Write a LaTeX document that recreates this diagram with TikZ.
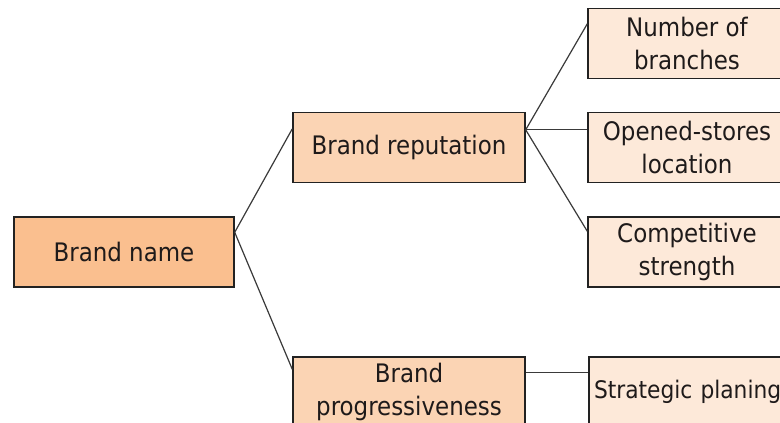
\documentclass[tikz,border=0pt]{standalone}
\usepackage{fontspec}
\setmainfont{DejaVu Sans Condensed}
\definecolor{fillA}{HTML}{FABF8F}
\definecolor{fillB}{HTML}{FBD4B4}
\definecolor{fillC}{HTML}{FDE9D9}
\definecolor{edgecol}{HTML}{222222}
\definecolor{linkcol}{HTML}{3A3A3A}
\definecolor{txtcol}{HTML}{1E1A1A}
\tikzset{
  box/.style={draw=edgecol, line width=1.4pt, inner sep=0pt, align=center,
    text=txtcol, font=\fontsize{25.5}{32.5}\selectfont, minimum height=70pt},
  rootbox/.style={box, fill=fillA, minimum width=220pt},
  midbox/.style={box, fill=fillB, minimum width=232pt},
  leafbox/.style={box, fill=fillC, minimum width=198pt},
  link/.style={draw=linkcol, line width=1.2pt}
}
\begin{document}
\begin{tikzpicture}[x=1pt, y=-1pt]
  \useasboundingbox (0,0) rectangle (780,423);
  \clip (0,0) rectangle (780,423);
  \fill[white] (0,0) rectangle (780,423);

  % hierarchy boxes
  \node[rootbox] (name) at (124,252) {Brand name};
  \node[midbox]  (rep)  at (409,147.5) {Brand reputation};
  \node[midbox]  (prog) at (409,392) {Brand\\progressiveness};
  \node[leafbox] (branches) at (687,43.5) {Number of\\branches};
  \node[leafbox] (stores)   at (687,147.5) {Opened-stores\\location};
  \node[leafbox] (compet)   at (687,252) {Competitive\\strength};
  \node[leafbox, align=left, text width=188pt,
        font=\fontsize{24.2}{30}\selectfont] (plan) at (688,392) {\mbox{Strategic planing}};

  % connectors
  \draw[link] ([yshift=-16pt]name.north east) -- ([yshift=-17pt]rep.north west);
  \draw[link] ([yshift=-16pt]name.north east) -- ([yshift=-13pt]prog.north west);
  \draw[link] ([yshift=-18pt]rep.north east) -- ([yshift=-16pt]branches.north west);
  \draw[link] ([yshift=-18pt]rep.north east) -- ([yshift=-18pt]stores.north west);
  \draw[link] ([yshift=-18pt]rep.north east) -- ([yshift=-15pt]compet.north west);
  \draw[link] ([yshift=-16pt]prog.north east) -- ([yshift=-16pt]plan.north west);
\end{tikzpicture}
\end{document}
